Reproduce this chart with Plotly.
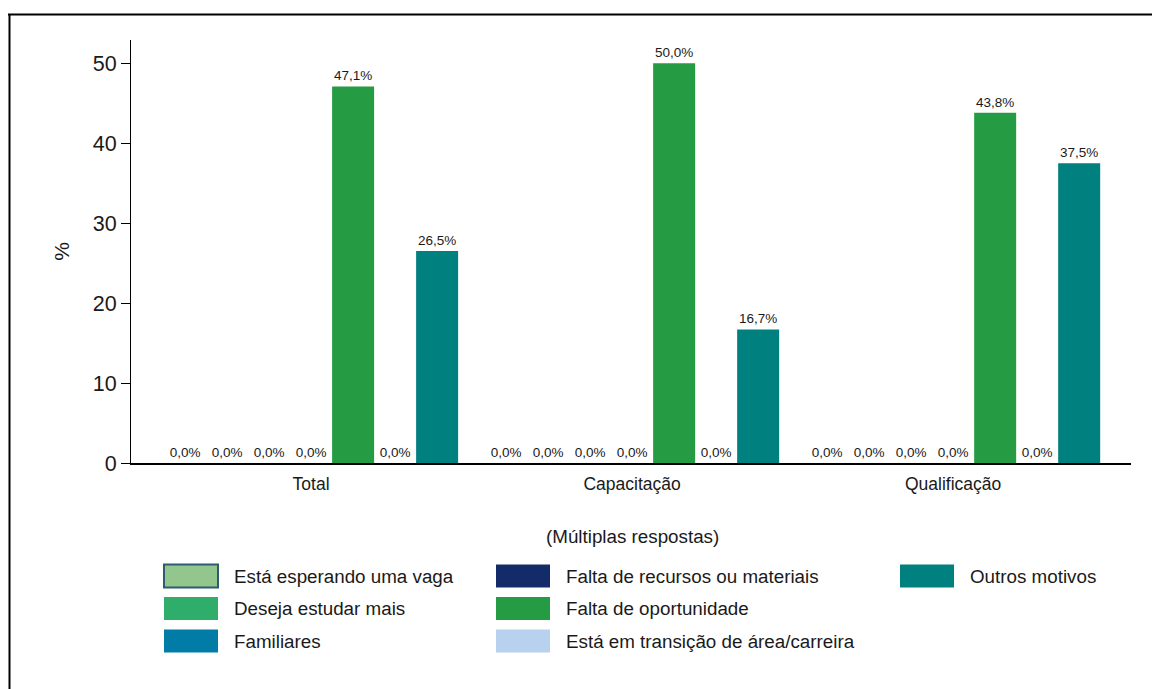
"""
Motivos por tipo de curso - gráfico de barras agrupadas.
"""

import plotly.graph_objects as go

categorias = ["Total", "Capacitação", "Qualificação"]

motivos = [
    "Está esperando uma vaga",
    "Deseja estudar mais",
    "Familiares",
    "Falta de recursos ou materiais",
    "Falta de oportunidade",
    "Está em transição de área/carreira",
    "Outros motivos",
]

esperando_vaga = [0.0, 0.0, 0.0]
estudar_mais = [0.0, 0.0, 0.0]
familiares = [0.0, 0.0, 0.0]
falta_recursos = [0.0, 0.0, 0.0]
falta_oportunidade = [47.1, 50.0, 43.8]
transicao_carreira = [0.0, 0.0, 0.0]
outros_motivos = [26.5, 16.7, 37.5]

series = [
    esperando_vaga,
    estudar_mais,
    familiares,
    falta_recursos,
    falta_oportunidade,
    transicao_carreira,
    outros_motivos,
]

cores = [
    "#93c68c",
    "#2eae6a",
    "#007ca6",
    "#132c69",
    "#259c43",
    "#b8d1ee",
    "#00807f",
]

FONTE = "Liberation Sans, Arial, sans-serif"
TEXTO = "#1a1a1a"

# page body margin (the figure sits 8px from the window edge)
DESLOC = 8
LARG, ALT = 1160, 689

# plot area in window pixels
ESQ, DIR, TOPO, BASE = 131, 1131, 40, 463


def px_x(px):
    return (px - ESQ) / (DIR - ESQ)


def px_y(py):
    return (BASE - py) / (BASE - TOPO)


figure = go.Figure()

for nome, valores, cor in zip(motivos, series, cores):
    figure.add_trace(
        go.Bar(
            x=categorias,
            y=valores,
            name=nome,
            marker_color=cor,
            marker_line_width=0,
            texttemplate="%{y:.1f}%",
            textposition="outside",
            textfont=dict(size=13.5, color=TEXTO, family=FONTE),
            cliponaxis=False,
            showlegend=False,
        )
    )

# manual legend: three columns, large swatches
colunas = [164, 496, 900]
linhas = [576, 608.5, 641]
shapes = []
annotations = []

for i, (nome, cor) in enumerate(zip(motivos, cores)):
    cx = colunas[i // 3]
    cy = linhas[i % 3]
    borda = dict(color="#2d5b74", width=2) if i == 0 else dict(width=0)
    shapes.append(
        dict(
            type="rect",
            xref="paper",
            yref="paper",
            x0=px_x(cx),
            x1=px_x(cx + 54),
            y0=px_y(cy + 11.5),
            y1=px_y(cy - 11.5),
            fillcolor=cor,
            line=borda,
        )
    )
    annotations.append(
        dict(
            text=nome,
            xref="paper",
            yref="paper",
            x=px_x(cx + 68),
            y=px_y(cy),
            xanchor="left",
            yanchor="middle",
            showarrow=False,
            font=dict(size=18.8, color=TEXTO, family=FONTE),
        )
    )

annotations.append(
    dict(
        text="(Múltiplas respostas)",
        xref="paper",
        yref="paper",
        x=px_x(632),
        y=px_y(536),
        xanchor="center",
        yanchor="middle",
        showarrow=False,
        font=dict(size=18.8, color=TEXTO, family=FONTE),
    )
)

# outer frame (only top and left edges visible)
shapes.append(
    dict(type="line", xref="paper", yref="paper",
         x0=px_x(8), x1=px_x(1175), y0=px_y(14.5), y1=px_y(14.5),
         line=dict(color="black", width=2))
)
shapes.append(
    dict(type="line", xref="paper", yref="paper",
         x0=px_x(9.5), x1=px_x(9.5), y0=px_y(14.5), y1=px_y(710),
         line=dict(color="black", width=2))
)

figure.update_layout(
    width=LARG,
    height=ALT,
    margin=dict(
        l=ESQ - DESLOC,
        r=LARG - DIR + DESLOC,
        t=TOPO - DESLOC,
        b=ALT - BASE + DESLOC,
    ),
    paper_bgcolor="white",
    plot_bgcolor="white",
    barmode="group",
    bargap=0.084,
    bargroupgap=0,
    separators=",.",
    font=dict(family=FONTE, color=TEXTO),
    shapes=shapes,
    annotations=annotations,
)

figure.update_xaxes(
    range=[-0.561, 2.554],
    showline=True,
    linecolor="black",
    linewidth=1.5,
    ticks="",
    showgrid=False,
    ticklabelstandoff=4,
    tickfont=dict(size=17.5, color=TEXTO),
)

figure.update_yaxes(
    range=[0, 52.9],
    showline=True,
    linecolor="black",
    linewidth=1,
    ticks="outside",
    ticklen=9,
    tickcolor="black",
    tickvals=[0, 10, 20, 30, 40, 50],
    showgrid=False,
    zeroline=False,
    tickfont=dict(size=21.5, color=TEXTO),
    title=dict(text="%", font=dict(size=21, color=TEXTO), standoff=17),
)

figure.write_html("out.html")
